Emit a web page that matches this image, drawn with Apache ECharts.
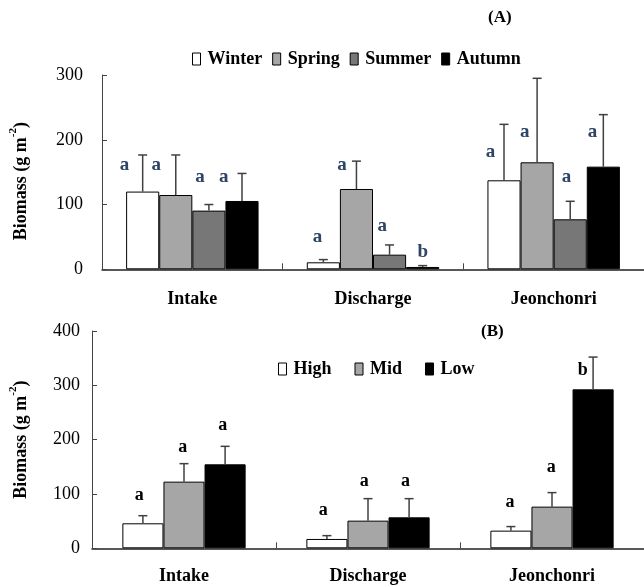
<!DOCTYPE html>
<html>
<head>
<meta charset="utf-8">
<script src="https://cdn.jsdelivr.net/npm/echarts@6/dist/echarts.min.js"></script>
<style>html,body{margin:0;padding:0;background:#fff;}#c{width:644px;height:587px;}</style>
</head>
<body>
<div id="c"></div>
<script>
// ---------- DATA ----------
const categories = ['Intake', 'Discharge', 'Jeonchonri'];
const yTicksA = [0, 100, 200, 300];
const yTicksB = [0, 100, 200, 300, 400];

// Panel A (seasons)
const seasonNames = ['Winter', 'Spring', 'Summer', 'Autumn'];
const winterMean = [120, 10.8, 137.4];
const springMean = [114.7, 124, 165.2];
const summerMean = [90.6, 22.6, 77.2];
const autumnMean = [105.5, 3.6, 158.5];
const winterSD = [56.5, 4.2, 86.4];
const springSD = [61.8, 43, 129.7];
const summerSD = [9.4, 15, 27.8];
const autumnSD = [42.5, 2.1, 80.3];
const winterLetters = ['a', 'a', 'a'];
const springLetters = ['a', 'a', 'a'];
const summerLetters = ['a', 'a', 'a'];
const autumnLetters = ['a', 'b', 'a'];
const winterLetterY = [161, 50, 181];
const springLetterY = [161, 161, 212];
const summerLetterY = [142, 67, 142];
const autumnLetterY = [142, 27, 212];

// Panel B (tidal levels)
const levelNames = ['High', 'Mid', 'Low'];
const highMean = [46, 17.2, 32.5];
const midMean = [122.7, 50.9, 76.7];
const lowMean = [154.6, 57, 292.6];
const highSD = [14, 6.1, 7.5];
const midSD = [33.1, 40.5, 25.8];
const lowSD = [33.1, 34.4, 59.4];
const highLetters = ['a', 'a', 'a'];
const midLetters = ['a', 'a', 'a'];
const lowLetters = ['a', 'a', 'b'];
const highLetterY = [97, 70.5, 84.7];
const midLetterY = [185, 124, 148.5];
const lowLetterY = [227, 124, 327];

// ---------- LAYOUT / STYLE ----------
const SERIF = '"Liberation Serif","Times New Roman",serif';
const gapA = 0.267, gapB = 0.33;
const dxA = [[-0.55, -0.18, -0.41], [-0.59, -0.44, -0.37], [-0.27, -0.22, -0.11], [-0.55, 0, -0.33]];
const dxB = [[-0.09, -0.09, -0.02], [-0.03, -0.09, -0.02], [-0.06, -0.09, -0.25]];
const seasonColors = ['#ffffff', '#a6a6a6', '#777777', '#000000'];
const levelColors = ['#ffffff', '#a6a6a6', '#000000'];

const chart = echarts.init(document.getElementById('c'));

function barSeries(name, data, gi, color, gap) {
  return {
    name, type: 'bar', xAxisIndex: gi, yAxisIndex: gi, data,
    barGap: '0%', barCategoryGap: (gap * 100) + '%',
    itemStyle: { color, borderColor: '#000', borderWidth: 1 },
    silent: true
  };
}

function errSeries(gi, i, n, gap, means, sds, letters, letterY, dx, letterColor, letterSize) {
  return {
    type: 'custom', name: 'err' + gi + '_' + i, xAxisIndex: gi, yAxisIndex: gi, z: 10, silent: true,
    data: means.map((m, k) => [k, m, m + sds[k], letterY[k]]),
    renderItem(params, api) {
      const k = api.value(0);
      const base = api.coord([k, api.value(1)]);
      const top = api.coord([k, api.value(2)]);
      const band = api.size([1, 0])[0];
      const gw = band * (1 - gap);
      const bw = gw / n;
      const x = base[0] - gw / 2 + bw * (i + 0.5);
      const ly = api.coord([k, api.value(3)])[1];
      const st = { stroke: '#404040', lineWidth: 1.5 };
      return {
        type: 'group', children: [
          { type: 'line', shape: { x1: x, y1: base[1], x2: x, y2: top[1] }, style: st },
          { type: 'line', shape: { x1: x - 4.5, y1: top[1], x2: x + 4.5, y2: top[1] }, style: st },
          { type: 'text', style: { text: letters[k], x: x + dx[k] * bw, y: ly, align: 'center', verticalAlign: 'middle',
              fill: letterColor, font: 'bold ' + letterSize + 'px ' + SERIF } }
        ]
      };
    }
  };
}

const nameRich = {
  b: { fontFamily: SERIF, fontWeight: 'bold', fontSize: 18, color: '#000', lineHeight: 22, verticalAlign: 'bottom' },
  s: { fontFamily: SERIF, fontWeight: 'bold', fontSize: 11, color: '#000', lineHeight: 22, verticalAlign: 'top' }
};

function yAxis(gi, max, ticks, gap, margin, pad) {
  return {
    gridIndex: gi, type: 'value', min: ticks[0], max: ticks[ticks.length - 1], interval: ticks[1] - ticks[0],
    axisLine: { show: true, lineStyle: { color: '#444', width: 1 } },
    axisTick: { show: true, inside: true, length: 5, lineStyle: { color: '#444' } },
    splitLine: { show: false },
    axisLabel: { fontFamily: SERIF, fontSize: 18, color: '#000', margin },
    name: '{b|Biomass (g m}{s|-2}{b|)}', nameLocation: 'middle', nameRotate: 90, nameGap: gap,
    nameTextStyle: { rich: nameRich, padding: pad }
  };
}

function xAxis(gi, margin) {
  return {
    gridIndex: gi, type: 'category', data: categories,
    axisLine: { show: true, lineStyle: { color: '#222', width: 1.5 } },
    axisTick: { show: true, inside: true, length: 6, lineStyle: { color: '#444' } },
    axisLabel: { fontFamily: SERIF, fontWeight: 'bold', fontSize: 18, color: '#000', margin }
  };
}

const seasonMeans = [winterMean, springMean, summerMean, autumnMean];
const seasonSDs = [winterSD, springSD, summerSD, autumnSD];
const seasonLetters = [winterLetters, springLetters, summerLetters, autumnLetters];
const seasonLetterY = [winterLetterY, springLetterY, summerLetterY, autumnLetterY];
const levelMeans = [highMean, midMean, lowMean];
const levelSDs = [highSD, midSD, lowSD];
const levelLetters = [highLetters, midLetters, lowLetters];
const levelLetterY = [highLetterY, midLetterY, lowLetterY];

const series = [];
seasonNames.forEach((nm, i) => series.push(barSeries(nm, seasonMeans[i], 0, seasonColors[i], gapA)));
levelNames.forEach((nm, i) => series.push(barSeries(nm, levelMeans[i], 1, levelColors[i], gapB)));
seasonNames.forEach((nm, i) => series.push(errSeries(0, i, 4, gapA, seasonMeans[i], seasonSDs[i], seasonLetters[i], seasonLetterY[i], dxA[i], '#2e4566', 19)));
levelNames.forEach((nm, i) => series.push(errSeries(1, i, 3, gapB, levelMeans[i], levelSDs[i], levelLetters[i], levelLetterY[i], dxB[i], '#000', 18)));

const legendText = { fontFamily: SERIF, fontWeight: 'bold', fontSize: 18, color: '#000', padding: [0, 0, 0, 2] };

chart.setOption({
  animation: false,
  backgroundColor: '#fff',
  grid: [
    { left: 101, top: 75, width: 546, height: 194.3 },
    { left: 89.5, top: 331, width: 557, height: 217.3 }
  ],
  xAxis: [xAxis(0, 21), xAxis(1, 19)],
  yAxis: [yAxis(0, 300, yTicksA, 72, 19, [0, 18, 0, 0]), yAxis(1, 400, yTicksB, 62, 12, [0, 0, 0, 0])],
  legend: [
    { data: seasonNames, left: 187, top: 45, itemWidth: 8, itemHeight: 12, itemGap: 10, icon: 'rect',
      itemStyle: { borderColor: '#000', borderWidth: 1 }, textStyle: legendText, selectedMode: false },
    { data: levelNames, left: 273, top: 355, itemWidth: 8, itemHeight: 12, itemGap: 23, icon: 'rect',
      itemStyle: { borderColor: '#000', borderWidth: 1 }, textStyle: legendText, selectedMode: false }
  ],
  graphic: [
    { type: 'text', left: 488, top: 9, style: { text: '(A)', font: 'bold 17px ' + SERIF, fill: '#000' } },
    { type: 'text', left: 481, top: 323, style: { text: '(B)', font: 'bold 17px ' + SERIF, fill: '#000' } }
  ],
  series
});
</script>
</body>
</html>
